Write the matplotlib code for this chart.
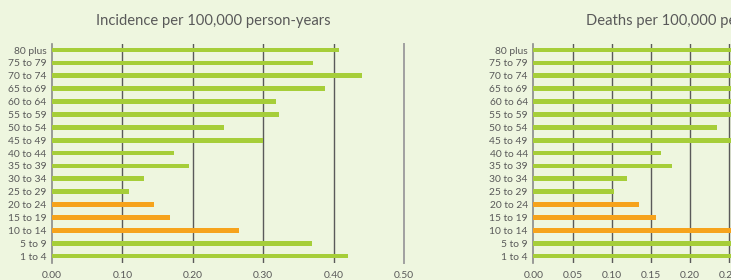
import numpy as np
import matplotlib
matplotlib.use("Agg")
import matplotlib.pyplot as plt

# age groups, top to bottom as shown
age_groups = ["80 plus", "75 to 79", "70 to 74", "65 to 69", "60 to 64", "55 to 59",
              "50 to 54", "45 to 49", "40 to 44", "35 to 39", "30 to 34", "25 to 29",
              "20 to 24", "15 to 19", "10 to 14", "5 to 9", "1 to 4"]

incidence = [0.408, 0.371, 0.441, 0.388, 0.318, 0.323, 0.244, 0.300, 0.173, 0.194,
             0.130, 0.109, 0.145, 0.167, 0.266, 0.369, 0.420]
# values past the cropped right edge are estimates
deaths = [0.38, 0.35, 0.41, 0.36, 0.30, 0.30, 0.234, 0.28, 0.1625, 0.1765,
          0.120, 0.1025, 0.1345, 0.156, 0.26, 0.35, 0.39]
highlight = ["20 to 24", "15 to 19", "10 to 14"]

GREEN = "#a6ce39"
ORANGE = "#f6a31c"
BG = "#eef6df"
TXT = "#595959"

plt.rcParams['font.family'] = ['Lato', 'DejaVu Sans']

W, H = 731, 280
fig = plt.figure(figsize=(W / 100, H / 100), dpi=100)
fig.patch.set_facecolor(BG)

n = len(age_groups)
ypos = np.arange(n)[::-1]
colors = [ORANGE if a in highlight else GREEN for a in age_groups]


def draw(ax, vals, xmax, step, last_light=False):
    ax.set_facecolor(BG)
    ax.barh(ypos, vals, height=0.37, color=colors, zorder=3)
    ax.set_xlim(0, xmax)
    ax.set_ylim(-0.5, n - 1 + 0.47)
    ticks = np.arange(0, xmax + 1e-9, step)
    ax.set_xticks(ticks)
    ax.set_xticklabels([f"{t:.2f}" for t in ticks])
    ax.set_yticks(ypos)
    ax.set_yticklabels(age_groups)
    for t in ticks[1:]:
        if last_light and np.isclose(t, xmax):
            ax.axvline(t, color="#a0a0a0", lw=1.4, zorder=1, clip_on=False)
        else:
            ax.axvline(t, color="#5a5a5a", lw=1.0, zorder=1)
    for s in ["top", "right", "bottom"]:
        ax.spines[s].set_visible(False)
    ax.spines["left"].set_color("#8a8a8a")
    ax.spines["left"].set_linewidth(1.2)
    ax.tick_params(axis="both", length=0, labelsize=7.4, labelcolor=TXT)
    ax.tick_params(axis="y", pad=4)
    ax.tick_params(axis="x", pad=6)


y0 = (H - 262.5) / H
hgt = (262.5 - 44) / H

ax1 = fig.add_axes([52 / W, y0, (404 - 52) / W, hgt])
draw(ax1, incidence, 0.5, 0.1, last_light=True)

ax2 = fig.add_axes([533.3 / W, y0, 0.45 * 784 / W, hgt])
draw(ax2, deaths, 0.45, 0.05)

fig.text(213 / W, 1 - 21 / H, "Incidence per 100,000 person-years", ha="center",
         va="center", fontsize=10.6, color=TXT)
fig.text(585.7 / W, 1 - 21 / H, "Deaths per 100,000 person-years", ha="left",
         va="center", fontsize=10.6, color=TXT)

fig.savefig("out.png", dpi=100, facecolor=BG)
